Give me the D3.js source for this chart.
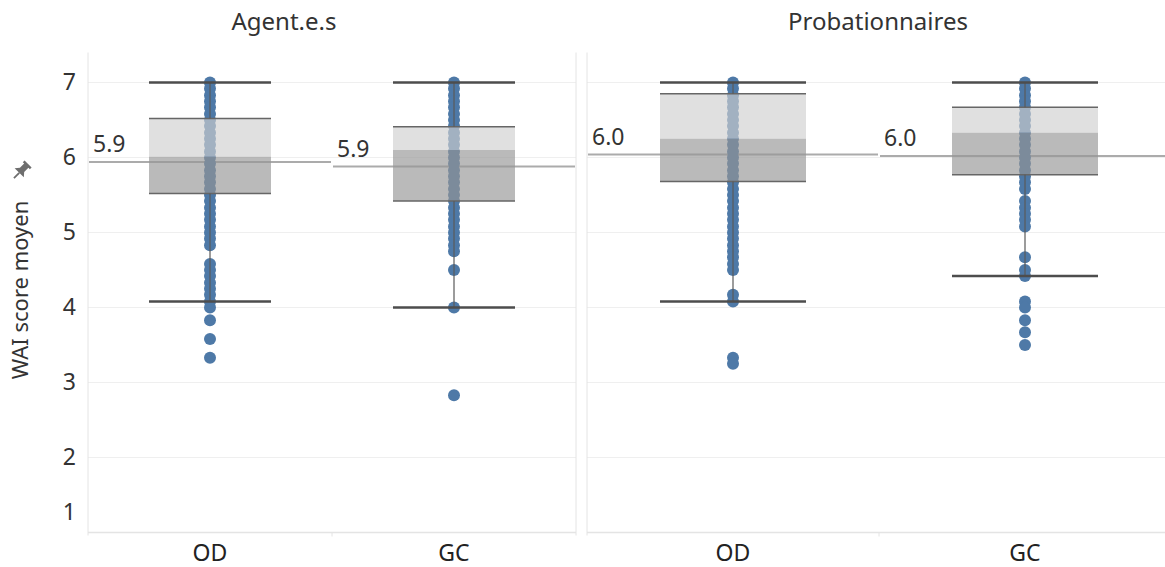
<!DOCTYPE html>
<html>
<head>
<meta charset="utf-8">
<script src="https://cdn.jsdelivr.net/npm/d3@7"></script>
<style>
  body { margin: 0; background: #fff; }
  svg { display: block; font-family: "Noto Sans", sans-serif; }
</style>
</head>
<body>
<div id="chart"></div>
<script>
const panels = ["Agent.e.s", "Probationnaires"]
const groups = ["OD", "GC"]
const yTicks = [1, 2, 3, 4, 5, 6, 7]

// individual WAI scores
const agentOD = [7.00, 6.92, 6.83, 6.75, 6.67, 6.58, 6.50, 6.42, 6.33, 6.25, 6.17, 6.08, 6.00,
    5.92, 5.83, 5.75, 5.67, 5.58, 5.50, 5.42, 5.33, 5.25, 5.17, 5.08, 5.00, 4.92, 4.83,
    4.58, 4.50, 4.42, 4.33, 4.25, 4.17, 4.08, 4.00, 3.83, 3.58, 3.33]
const agentGC = [7.00, 6.92, 6.83, 6.75, 6.67, 6.58, 6.50, 6.42, 6.33, 6.25, 6.17, 6.08, 6.00,
    5.92, 5.83, 5.75, 5.67, 5.58, 5.50, 5.42, 5.33, 5.25, 5.17, 5.08, 5.00, 4.92, 4.83, 4.75,
    4.50, 4.00, 2.83]
const probOD = [7.00, 6.92, 6.83, 6.75, 6.67, 6.58, 6.50, 6.42, 6.33, 6.25, 6.17, 6.08, 6.00,
    5.92, 5.83, 5.75, 5.67, 5.58, 5.50, 5.42, 5.33, 5.25, 5.17, 5.08, 5.00, 4.92, 4.83, 4.75,
    4.67, 4.58, 4.50, 4.17, 4.08, 3.33, 3.25]
const probGC = [7.00, 6.92, 6.83, 6.75, 6.67, 6.58, 6.50, 6.42, 6.33, 6.25, 6.17, 6.08, 6.00,
    5.92, 5.83, 5.75, 5.67, 5.58, 5.42, 5.33, 5.25, 5.17, 5.08,
    4.67, 4.50, 4.42, 4.08, 4.00, 3.83, 3.67, 3.50]

// per cell, in order Agent OD, Agent GC, Prob OD, Prob GC
const cellPanels = [0, 0, 1, 1]
const cellGroups = ["OD", "GC", "OD", "GC"]
const cellScores = [agentOD, agentGC, probOD, probGC]
const means = [5.94, 5.88, 6.04, 6.02]
const q1s = [5.52, 5.42, 5.68, 5.77]
const medians = [6.01, 6.10, 6.25, 6.33]
const q3s = [6.52, 6.41, 6.85, 6.67]
const whiskLow = [4.08, 4.00, 4.08, 4.42]
const whiskHigh = [7.00, 7.00, 7.00, 7.00]

const width = 1165
const height = 567

const svg = d3.select("#chart")
    .append("svg")
    .attr("width", width)
    .attr("height", height)

const y = d3.scaleLinear().domain([1, 7.4]).range([532.5, 52.5])
const paneX = [[88, 576], [587, 1171]]
const xScales = paneX.map(r => d3.scaleBand().domain(groups).range(r))
const fmt = d3.format(".1f")

// panes: gridlines and borders
paneX.forEach((r, p) => {
    const g = svg.append("g")
    g.selectAll(".grid")
        .data(yTicks)
        .enter().append("line")
        .attr("x1", r[0]).attr("x2", r[1])
        .attr("y1", d => y(d)).attr("y2", d => y(d))
        .attr("stroke", "#efefef")
        .attr("stroke-width", 1)
    g.append("line")
        .attr("x1", r[0]).attr("x2", r[0])
        .attr("y1", y.range()[1]).attr("y2", y.range()[0] + 3)
        .attr("stroke", "#e4e4e4")
    g.append("line")
        .attr("x1", xScales[p](groups[1])).attr("x2", xScales[p](groups[1]))
        .attr("y1", y.range()[0]).attr("y2", y.range()[0] + 4)
        .attr("stroke", "#e4e4e4")
    g.append("line")
        .attr("x1", r[0]).attr("x2", r[1])
        .attr("y1", y.range()[0]).attr("y2", y.range()[0])
        .attr("stroke", "#e4e4e4")
        .attr("stroke-width", 1.5)
})
svg.append("line")
    .attr("x1", paneX[0][1]).attr("x2", paneX[0][1])
    .attr("y1", y.range()[1]).attr("y2", y.range()[0] + 3)
    .attr("stroke", "#e4e4e4")

// column headers
const headerX = [284, 878]
svg.selectAll(".header")
    .data(panels)
    .enter().append("text")
    .attr("x", (d, i) => headerX[i])
    .attr("y", 30)
    .attr("text-anchor", "middle")
    .attr("font-size", 24)
    .attr("fill", "#333")
    .text(d => d)

// y axis
const yAxis = svg.append("g")
    .attr("transform", "translate(88,0)")
    .call(d3.axisLeft(y).tickValues(yTicks).tickFormat(d3.format("d")).tickSize(0).tickPadding(12))
yAxis.select(".domain").remove()
yAxis.selectAll("text")
    .attr("font-size", 23)
    .attr("font-family", "Noto Sans, sans-serif")
    .attr("fill", "#333")
    .filter(d => d === 1)
    .attr("y", -20)

// y title with pin
const title = svg.append("g").attr("transform", "translate(28,290) rotate(-90)")
title.append("text")
    .attr("text-anchor", "middle")
    .attr("font-size", 22)
    .attr("fill", "#333")
    .text("WAI score moyen")
const pin = svg.append("g").attr("transform", "translate(21,171) rotate(45)")
pin.append("path")
    .attr("d", "M-5,-10 L5,-10 L5,-7.5 L3,-7.5 L3,-1.5 L6.5,2.5 L-6.5,2.5 L-3,-1.5 L-3,-7.5 L-5,-7.5 Z")
    .attr("fill", "#6e6e6e")
pin.append("line")
    .attr("x1", 0).attr("x2", 0).attr("y1", 2.5).attr("y2", 10)
    .attr("stroke", "#6e6e6e").attr("stroke-width", 1.8)

// x labels
cellGroups.forEach((grp, i) => {
    const xs = xScales[cellPanels[i]]
    svg.append("text")
        .attr("x", xs(grp) + xs.bandwidth() / 2)
        .attr("y", 561)
        .attr("text-anchor", "middle")
        .attr("font-size", 23)
        .attr("fill", "#222")
        .text(grp)
})

// cells
cellGroups.forEach((grp, i) => {
    const xs = xScales[cellPanels[i]]
    const left = xs(grp)
    const cx = left + xs.bandwidth() / 2
    const bw = xs.bandwidth() / 2
    const g = svg.append("g")

    // mean reference line
    g.append("line")
        .attr("x1", left + 1).attr("x2", left + xs.bandwidth() - 1)
        .attr("y1", y(means[i])).attr("y2", y(means[i]))
        .attr("stroke", "#ababab")
        .attr("stroke-width", 2)

    g.selectAll(".dot")
        .data(cellScores[i])
        .enter().append("circle")
        .attr("cx", cx)
        .attr("cy", d => y(d))
        .attr("r", 6)
        .attr("fill", "#4e79a7")

    // box
    g.append("rect")
        .attr("x", cx - bw / 2).attr("width", bw)
        .attr("y", y(q3s[i])).attr("height", y(medians[i]) - y(q3s[i]))
        .attr("fill", "rgb(207,207,207)").attr("fill-opacity", 0.65)
    g.append("rect")
        .attr("x", cx - bw / 2).attr("width", bw)
        .attr("y", y(medians[i])).attr("height", y(q1s[i]) - y(medians[i]))
        .attr("fill", "rgb(149,149,149)").attr("fill-opacity", 0.65)
    ;[q1s[i], q3s[i]].forEach(v => {
        g.append("line")
            .attr("x1", cx - bw / 2).attr("x2", cx + bw / 2)
            .attr("y1", y(v)).attr("y2", y(v))
            .attr("stroke", "#666").attr("stroke-width", 1.5)
    })
    // whiskers
    ;[[q1s[i], whiskLow[i]], [q3s[i], whiskHigh[i]]].forEach(([a, b]) => {
        g.append("line")
            .attr("x1", cx).attr("x2", cx)
            .attr("y1", y(a)).attr("y2", y(b))
            .attr("stroke", "#5a5a5a").attr("stroke-width", 1.2)
        g.append("line")
            .attr("x1", cx - bw / 2).attr("x2", cx + bw / 2)
            .attr("y1", y(b)).attr("y2", y(b))
            .attr("stroke", "#4d4d4d").attr("stroke-width", 2.5)
    })

    g.append("text")
        .attr("x", left + 5)
        .attr("y", y(means[i]) - 10)
        .attr("font-size", 23)
        .attr("fill", "#333")
        .text(fmt(means[i]))
})
</script>
</body>
</html>
